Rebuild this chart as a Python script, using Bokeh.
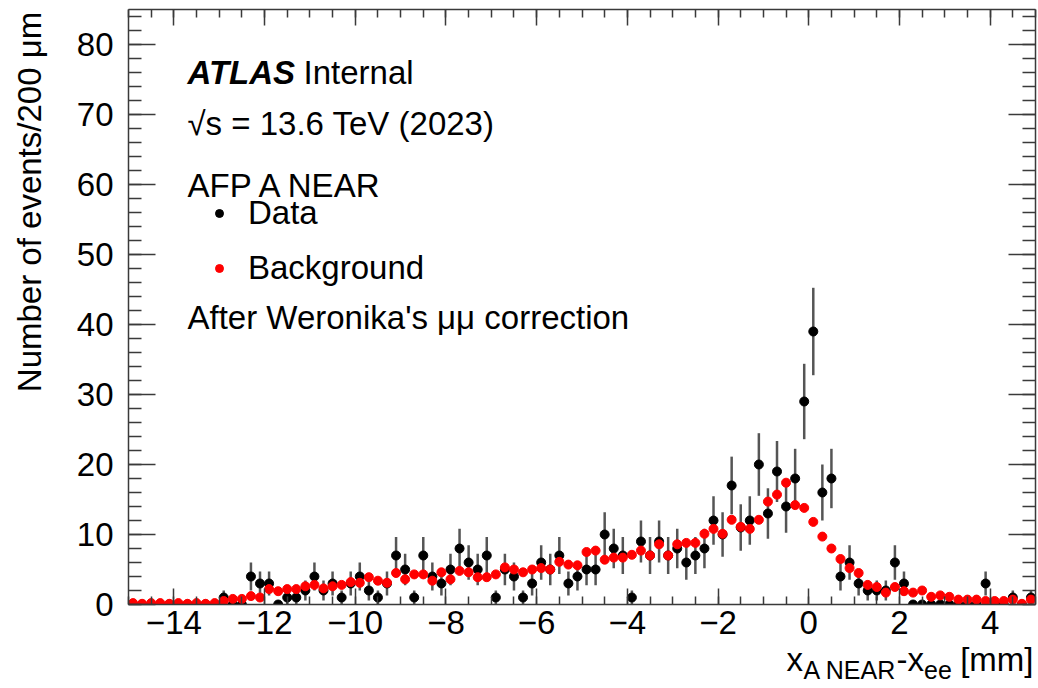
import numpy as np
from bokeh.plotting import figure
from bokeh.models import (Range1d, LinearAxis, SingleIntervalTicker, FixedTicker, Label, Legend,
                          LegendItem, ColumnDataSource, CustomJSTickFormatter)
from bokeh.embed import file_html
from bokeh.resources import INLINE

# ---------------- data ----------------
x_low, x_high, bin_width = -15.0, 5.0, 0.2
bin_centers = [round(x_low + bin_width * (i + 0.5), 2) for i in range(100)]

data_counts = [
    0, 0, 0, 0, 0, 0, 0, 0, 0, 0,
    1, 0, 0, 4, 3, 3, 0, 1, 1, 2,
    4, 2, 3, 1, 3, 4, 2, 1, 3, 7,
    5, 1, 7, 4, 3, 5, 8, 6, 5, 7,
    1, 5, 4, 1, 3, 6, 5, 7, 3, 4,
    5, 5, 10, 8, 7, 1, 9, 7, 9, 7,
    8, 6, 7, 8, 12, 10, 17, 11, 12, 20,
    13, 19, 14, 18, 29, 39, 16, 18, 4, 6,
    3, 2, 2, 2, 6, 3, 0, 0, 0, 0,
    0, 0, 0, 0, 3, 0, 0, 1, 0, 1,
]

background = [
    0.2, 0.1, 0.2, 0.2, 0.1, 0.2, 0.1, 0.2, 0.1, 0.2,
    0.5, 0.8, 0.8, 1.2, 1.0, 2.2, 1.9, 2.2, 2.2, 2.6,
    2.8, 2.3, 2.6, 2.8, 3.2, 3.1, 3.9, 3.4, 3.1, 4.5,
    3.6, 4.3, 4.3, 3.4, 4.6, 3.6, 4.8, 4.6, 3.9, 3.9,
    4.3, 5.3, 5.0, 4.6, 5.0, 5.2, 5.0, 6.1, 5.7, 5.6,
    7.5, 7.7, 6.4, 6.7, 6.7, 7.1, 7.7, 7.0, 8.6, 7.0,
    8.6, 8.8, 8.8, 10.1, 10.8, 10.1, 12.1, 11.1, 10.8, 12.1,
    14.7, 15.7, 17.4, 14.2, 13.8, 11.8, 9.7, 8.0, 6.5, 5.2,
    4.5, 2.8, 2.5, 1.7, 2.5, 1.9, 1.7, 2.0, 1.1, 1.3,
    1.1, 0.7, 0.7, 0.7, 0.5, 0.5, 0.5, 0.7, 0.1, 0.7,
]

x_tick_values = [-14, -12, -10, -8, -6, -4, -2, 0, 2, 4]
x_tick_labels = ["\u221214", "\u221212", "\u221210", "\u22128", "\u22126",
                 "\u22124", "\u22122", "0", "2", "4"]

# axis titles (split into normal-size and subscript pieces)
x_title_main = ["x", "-x", "[mm]"]
x_title_sub = ["A NEAR", "ee"]
y_title = "Number of events/200 \u03bcm"

# ---------------- layout constants ----------------
FONT = "Liberation Sans"
W, H = 1038, 688
FRAME_L, FRAME_B = 128, 604  # canvas px of frame left / bottom

err = np.sqrt(np.array(data_counts, dtype=float))
src = ColumnDataSource(dict(
    x=bin_centers,
    y=data_counts,
    lo=list(np.array(data_counts) - err),
    hi=list(np.array(data_counts) + err),
    bg=background,
))

p = figure(width=W, height=H, x_range=Range1d(x_low, x_high), y_range=Range1d(0, 85),
           output_backend="svg", toolbar_location=None,
           min_border_left=FRAME_L, min_border_right=3, min_border_top=9,
           min_border_bottom=H - FRAME_B)
p.background_fill_color = "white"
p.border_fill_color = "white"
p.outline_line_color = None
p.xgrid.visible = False
p.ygrid.visible = False

p.segment(x0="x", y0="lo", x1="x", y1="hi", source=src, line_color="#555555", line_width=2.5)
data_r = p.scatter("x", "y", source=src, size=9, fill_color="black", line_color="black")
bg_r = p.scatter("x", "bg", source=src, size=9, fill_color="red", line_color="red")

AX_COL = "#3a3a3a"


def style_axis(ax, major_in, minor_in, show_labels):
    ax.axis_line_color = AX_COL
    ax.axis_line_width = 1.5
    ax.major_tick_line_color = AX_COL
    ax.minor_tick_line_color = AX_COL
    ax.major_tick_line_width = 1.5
    ax.minor_tick_line_width = 1.5
    ax.major_tick_in = major_in
    ax.major_tick_out = 0
    ax.minor_tick_in = minor_in
    ax.minor_tick_out = 0
    ax.major_label_text_font = FONT
    if show_labels:
        ax.major_label_text_font_size = "33px"
        ax.major_label_text_color = "black"
    else:
        ax.formatter = CustomJSTickFormatter(code="return ''")
        ax.major_label_text_font_size = "1px"
        ax.major_label_text_color = None
        ax.major_label_standoff = 0


xt = SingleIntervalTicker(interval=2, num_minor_ticks=4)
yt = SingleIntervalTicker(interval=10, num_minor_ticks=5)

xa = p.xaxis[0]
xa.ticker = xt
xa.major_label_overrides = {v: t for v, t in zip(x_tick_values, x_tick_labels)}
style_axis(xa, 16, 8, True)
xa.major_label_standoff = 6

ya = p.yaxis[0]
ya.ticker = yt
style_axis(ya, 27, 13, True)
ya.major_label_standoff = 15

top = LinearAxis(ticker=xt)
style_axis(top, 16, 8, False)
p.add_layout(top, "above")
right = LinearAxis(ticker=yt)
style_axis(right, 27, 13, False)
p.add_layout(right, "right")


def title_axis(at, labels, size, standoff, orientation="horizontal"):
    """An axis with no line or ticks, used only to place title text pieces."""
    ax = LinearAxis(ticker=FixedTicker(ticks=at, minor_ticks=[]),
                    formatter=CustomJSTickFormatter(args=dict(labels=labels),
                                                    code="return labels[index]"))
    ax.axis_line_color = None
    ax.major_tick_line_color = None
    ax.minor_tick_line_color = None
    ax.major_tick_in = 0
    ax.major_tick_out = 0
    ax.minor_tick_in = 0
    ax.minor_tick_out = 0
    ax.major_label_text_font = FONT
    ax.major_label_text_font_size = size
    ax.major_label_text_color = "black"
    ax.major_label_standoff = standoff
    ax.major_label_orientation = orientation
    return ax


# x title: centres of the pieces along the x axis (layout positions, in axis units)
p.add_layout(title_axis([-0.309, 2.238, 4.148], x_title_main, "33px", 4), "below")
p.add_layout(title_axis([0.911, 2.848], x_title_sub, "25px", -25), "below")
# y title: centred at its middle, written upwards
p.add_layout(title_axis([57.5], [y_title], "33px", 26, "vertical"), "left")


def lab(cx, cy, text, size="33px", style="normal"):
    l = Label(x=cx - FRAME_L, y=FRAME_B - cy, x_units="screen", y_units="screen", text=text,
              text_font=FONT, text_font_size=size, text_font_style=style, text_align="left",
              text_baseline="alphabetic", text_color="black")
    p.add_layout(l)


# in-frame texts
lab(187, 72, "ATLAS", style="bold italic")
lab(303, 72, "Internal")
lab(187, 123, "\u221As = 13.6 TeV (2023)")
lab(187, 185, "AFP A NEAR")
lab(187, 317, "After Weronika's \u03bc\u03bc correction")

legend = Legend(items=[LegendItem(label="Data", renderers=[data_r]),
                       LegendItem(label="Background", renderers=[bg_r])],
                location=(81, 317), orientation="vertical")
legend.border_line_color = None
legend.background_fill_alpha = 0
legend.label_text_font = FONT
legend.label_text_font_size = "33px"
legend.label_text_color = "black"
legend.glyph_width = 20
legend.glyph_height = 30
legend.label_height = 30
legend.spacing = 17
legend.padding = 0
legend.margin = 0
legend.label_standoff = 19
p.add_layout(legend)

open("out.html", "w").write(file_html(p, INLINE))
